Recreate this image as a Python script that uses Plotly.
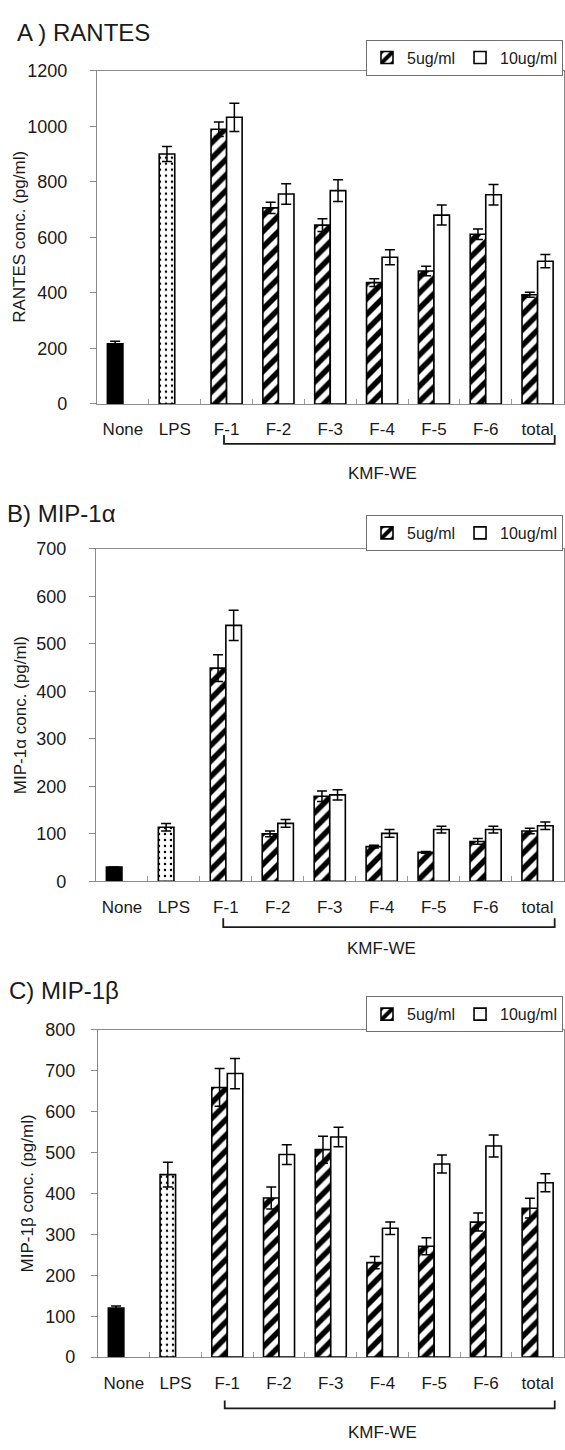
import plotly.graph_objects as go

W, H = 565, 1450
FONT = "Liberation Sans, Arial, sans-serif"

categories = ["None", "LPS", "F-1", "F-2", "F-3", "F-4", "F-5", "F-6", "total"]
fractions = ["F-1", "F-2", "F-3", "F-4", "F-5", "F-6", "total"]
dose_names = ["5ug/ml", "10ug/ml"]

# A) RANTES (pg/ml)
rantes_none, rantes_none_err = 217, 9
rantes_lps, rantes_lps_err = 900, 27
rantes_5 = [989, 706, 644, 437, 479, 611, 393]
rantes_5_err = [26, 20, 23, 14, 17, 19, 9]
rantes_10 = [1032, 756, 768, 528, 680, 753, 514]
rantes_10_err = [51, 37, 39, 27, 36, 37, 24]

# B) MIP-1alpha (pg/ml)
mip1a_none, mip1a_none_err = 30, 0
mip1a_lps, mip1a_lps_err = 114, 8
mip1a_5 = [449, 100, 179, 73, 61, 84, 106]
mip1a_5_err = [28, 6, 11, 3, 2, 6, 6]
mip1a_10 = [539, 122, 182, 101, 109, 109, 117]
mip1a_10_err = [32, 8, 11, 8, 7, 7, 8]

# C) MIP-1beta (pg/ml)
mip1b_none, mip1b_none_err = 120, 5
mip1b_lps, mip1b_lps_err = 446, 30
mip1b_5 = [659, 389, 507, 231, 271, 330, 364]
mip1b_5_err = [46, 27, 33, 15, 21, 22, 24]
mip1b_10 = [693, 495, 538, 315, 472, 516, 426]
mip1b_10_err = [37, 24, 24, 15, 22, 27, 22]

panels = [
    dict(title="A ) RANTES", ylabel="RANTES conc. (pg/ml)", ymax=1200, dtick=200,
         none=(rantes_none, rantes_none_err), lps=(rantes_lps, rantes_lps_err),
         d5=(rantes_5, rantes_5_err), d10=(rantes_10, rantes_10_err),
         top=61.5, bottom=399.5, left=97, title_y=23, title_x=15,
         legend_top=30, ylab_x=19.5, standoff=19,
         br_top=431, br_bot=440, kmf_y=470),
    dict(title="B) MIP-1α", ylabel="MIP-1α conc. (pg/ml)", ymax=700, dtick=100,
         none=(mip1a_none, mip1a_none_err), lps=(mip1a_lps, mip1a_lps_err),
         d5=(mip1a_5, mip1a_5_err), d10=(mip1a_10, mip1a_10_err),
         top=546.5, bottom=883.5, left=96, title_y=511, title_x=5,
         legend_top=512, ylab_x=20, standoff=19,
         br_top=921, br_bot=930, kmf_y=952),
    dict(title="C) MIP-1β", ylabel="MIP-1β conc. (pg/ml)", ymax=800, dtick=100,
         none=(mip1b_none, mip1b_none_err), lps=(mip1b_lps, mip1b_lps_err),
         d5=(mip1b_5, mip1b_5_err), d10=(mip1b_10, mip1b_10_err),
         top=1034, bottom=1366, left=98, title_y=994, title_x=7,
         legend_top=1000, ylab_x=27, standoff=12,
         br_top=1410, br_bot=1418, kmf_y=1442),
]

def py(px):
    return 1 - px / H

fig = go.Figure()
annotations, shapes = [], []
line_black = dict(color="black", width=1.6)
err_style = dict(type="data", symmetric=True, color="black", thickness=1.5, width=5)
hatch = dict(shape="/", fgcolor="#000000", fgopacity=1, bgcolor="white",
             size=11, solidity=0.5)
dots = dict(shape=".", fgcolor="#000000", fgopacity=1, bgcolor="white",
            size=6, solidity=0.13)

for i, p in enumerate(panels):
    n = "" if i == 0 else str(i + 1)
    xa, ya = "x" + n, "y" + n
    leg = "legend" + n

    fig.add_trace(go.Bar(
        x=["None"], y=[p["none"][0]], xaxis=xa, yaxis=ya, offsetgroup="a",
        marker=dict(color="black", line=line_black), showlegend=False,
        error_y=dict(array=[p["none"][1]], **err_style)))
    fig.add_trace(go.Bar(
        x=["LPS"], y=[p["lps"][0]], xaxis=xa, yaxis=ya, offsetgroup="a",
        marker=dict(color="white", line=line_black, pattern=dots),
        showlegend=False, error_y=dict(array=[p["lps"][1]], **err_style)))
    fig.add_trace(go.Bar(
        x=fractions, y=p["d5"][0], xaxis=xa, yaxis=ya, offsetgroup="a",
        name=dose_names[0], legend=leg,
        marker=dict(color="white", line=line_black, pattern=hatch),
        error_y=dict(array=p["d5"][1], **err_style)))
    fig.add_trace(go.Bar(
        x=fractions, y=p["d10"][0], xaxis=xa, yaxis=ya, offsetgroup="b",
        name=dose_names[1], legend=leg,
        marker=dict(color="white", line=line_black),
        error_y=dict(array=p["d10"][1], **err_style)))

    xdom = [p["left"] / W, 563.5 / W]
    ydom = [py(p["bottom"]), py(p["top"])]
    fig.update_layout(**{
        "xaxis" + n: dict(
            domain=xdom, anchor=ya, type="category", categoryorder="array",
            categoryarray=categories, range=[-0.5, len(categories) - 0.5],
            showline=True, linecolor="#8a8a8a", linewidth=1.2, mirror=True,
            ticks="inside", tickson="boundaries", ticklen=5, tickcolor="#9a9a9a",
            tickfont=dict(family=FONT, size=17, color="#1a1a1a"),
            ticklabelstandoff=10, showgrid=False, zeroline=False, fixedrange=True),
        "yaxis" + n: dict(
            domain=ydom, anchor=xa, range=[0, p["ymax"]], dtick=p["dtick"],
            showline=True, linecolor="#8a8a8a", linewidth=1.2, mirror=True,
            ticks="outside", ticklen=6, tickcolor="#8a8a8a",
            tickfont=dict(family=FONT, size=18, color="#1a1a1a"),
            ticklabelstandoff=p["standoff"], showgrid=False, zeroline=False,
            fixedrange=True),
        leg: dict(
            orientation="h", xref="paper", yref="paper", x=563 / W, xanchor="right",
            y=py(p["legend_top"]), yanchor="top", bgcolor="white",
            bordercolor="#707070", borderwidth=1,
            font=dict(family=FONT, size=16, color="#1a1a1a"),
            itemwidth=30, tracegroupgap=0),
    })

    annotations.append(dict(
        text=p["title"], xref="paper", yref="paper", x=p["title_x"] / W,
        y=py(p["title_y"]), xanchor="left", yanchor="middle", showarrow=False,
        font=dict(family=FONT, size=24, color="#1a1a1a")))
    annotations.append(dict(
        text=p["ylabel"], xref="paper", yref="paper", x=p["ylab_x"] / W,
        y=py((p["top"] + p["bottom"]) / 2), textangle=-90, xanchor="center",
        yanchor="middle", showarrow=False,
        font=dict(family=FONT, size=17, color="#1a1a1a")))
    annotations.append(dict(
        text="KMF-WE", xref=xa, yref="paper", x="F-4", y=py(p["kmf_y"]),
        xanchor="center", yanchor="middle", showarrow=False,
        font=dict(family=FONT, size=17, color="#1a1a1a")))

    # bracket grouping the KMF-WE fractions
    x0 = categories.index(fractions[0]) - 0.05
    x1 = categories.index(fractions[-1]) + 0.33
    yt, yb = py(p["br_top"]), py(p["br_bot"])
    shapes.append(dict(
        type="path", xref=xa, yref="paper",
        path=f"M {x0},{yt} L {x0},{yb} L {x1},{yb} L {x1},{yt}",
        line=dict(color="#1a1a1a", width=1.8)))

fig.update_layout(
    width=W, height=H, margin=dict(l=0, r=0, t=0, b=0),
    paper_bgcolor="white", plot_bgcolor="white",
    barmode="group", bargap=0.4, bargroupgap=0.0,
    annotations=annotations, shapes=shapes,
    font=dict(family=FONT, color="#1a1a1a"),
)

fig.write_html("out.html")
